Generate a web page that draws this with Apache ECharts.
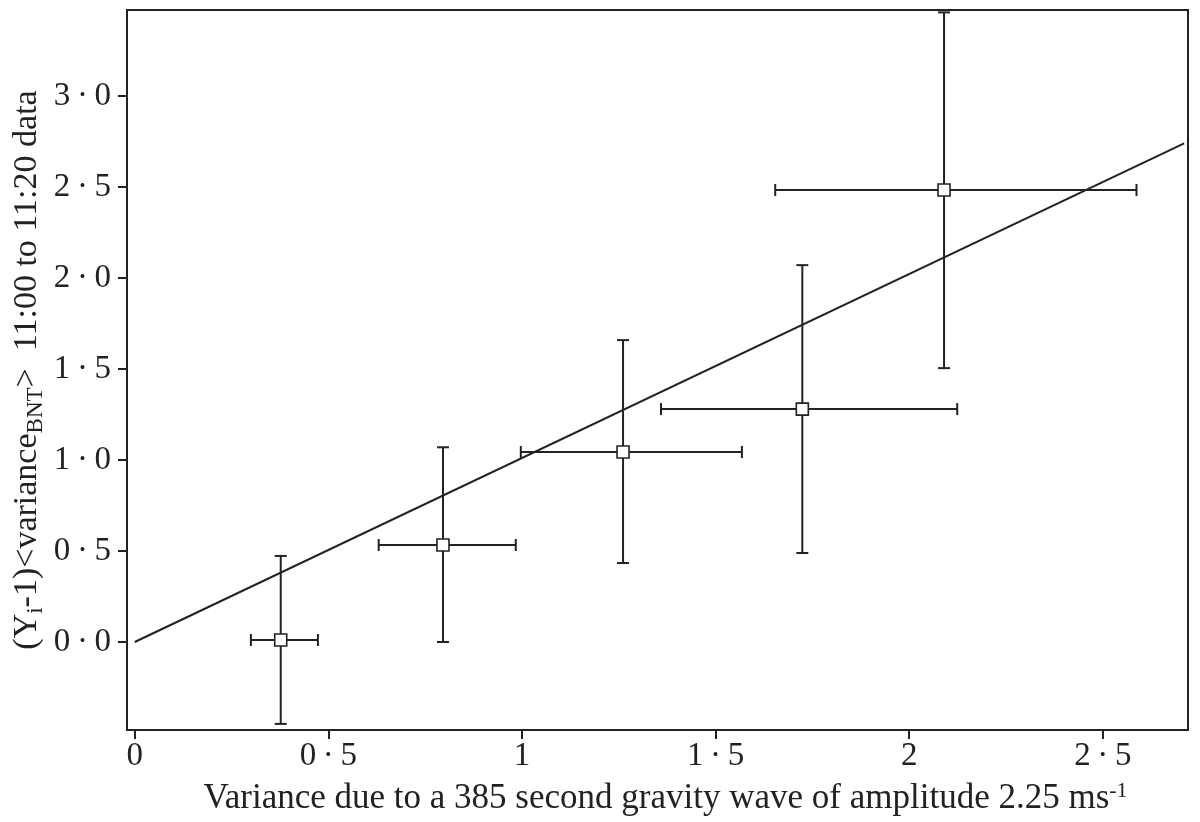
<!doctype html>
<html>
<head>
	<meta charset="utf-8">
	<title></title>
	<script src="https://cdn.jsdelivr.net/npm/echarts@6/dist/echarts.min.js"></script>
	<style>html,body{margin:0;padding:0;background:#fff;}</style>
</head>
<body>
	<div id="chart" style="width: 1200px; height: 822px;"></div>
	<script>
		// measured points with their error ranges
		var xs  = [0.377, 0.796, 1.261, 1.724, 2.090];
		var ys  = [0.011, 0.533, 1.044, 1.280, 2.484];
		var xLo = [0.300, 0.630, 0.997, 1.359, 1.654];
		var xHi = [0.473, 0.984, 1.568, 2.124, 2.587];
		var yLo = [-0.45, 0.000, 0.434, 0.489, 1.505];
		var yHi = [0.473, 1.070, 1.659, 2.071, 3.460];
		// fitted line end points
		var fitX = [0, 2.71];
		var fitY = [0, 2.74];
		var xTicks = [0, 0.5, 1, 1.5, 2, 2.5];
		var yTicks = [0, 0.5, 1, 1.5, 2, 2.5, 3];

		var font = "'Liberation Serif', 'DejaVu Serif', serif";
		var ink = '#222';
		var dot = '\u2009\u00b7\u2009';

		var pts = xs.map(function (x, i) {
			return [x, ys[i], xLo[i], xHi[i], yLo[i], yHi[i]];
		});
		var fit = fitX.map(function (x, i) { return [x, fitY[i]]; });

		var chart = document.getElementById('chart');
		var myChart = echarts.init(chart);
		var option = {
			animation: false,
			backgroundColor: '#fff',
			grid: {
				left: 127, right: 12, top: 10, bottom: 92,
				outerBoundsMode: 'none',
				show: true, borderColor: ink, borderWidth: 2
			},
			xAxis: {
				type: 'value',
				min: -0.02, max: 2.72,
				splitLine: {show: false},
				axisLine: {onZero: false, lineStyle: {color: ink, width: 2}},
				axisTick: {customValues: xTicks, length: 9, lineStyle: {color: ink, width: 2}},
				axisLabel: {
					customValues: xTicks, margin: 10,
					color: ink, fontFamily: font, fontSize: 33,
					formatter: function (v) { return String(v).replace('.', dot); }
				},
				name: 'Variance due to a 385 second gravity wave of amplitude 2.25 ms{sup|-1}',
				nameLocation: 'middle', nameGap: 50,
				nameTextStyle: {
					color: ink, fontFamily: font, fontSize: 35,
					padding: [0, 0, 0, 16],
					rich: {sup: {fontSize: 22, fontFamily: font, color: ink, padding: [0, 0, 16, 0]}}
				}
			},
			yAxis: {
				type: 'value',
				min: -0.4835, max: 3.473,
				splitLine: {show: false},
				axisLine: {onZero: false, lineStyle: {color: ink, width: 2}},
				axisTick: {customValues: yTicks, length: 9, lineStyle: {color: ink, width: 2}},
				axisLabel: {
					customValues: yTicks, margin: 16,
					color: ink, fontFamily: font, fontSize: 33,
					formatter: function (v) { return v.toFixed(1).replace('.', dot); }
				},
				name: '(Y{sub|i}-1)<variance{sub|BNT}>  11:00 to 11:20 data',
				nameLocation: 'middle', nameGap: 80,
				nameMoveOverlap: false,
				nameTextStyle: {
					color: ink, fontFamily: font, fontSize: 34,
					rich: {sub: {fontSize: 23, fontFamily: font, color: ink, padding: [16, 0, 0, 0]}}
				}
			},
			series: [
				{
					type: 'line',
					data: fit,
					showSymbol: false,
					lineStyle: {color: ink, width: 2},
					z: 2
				},
				{
					type: 'custom',
					data: pts,
					z: 3,
					renderItem: function (params, api) {
						var c = api.coord([api.value(0), api.value(1)]);
						var l = api.coord([api.value(2), api.value(1)]);
						var r = api.coord([api.value(3), api.value(1)]);
						var b = api.coord([api.value(0), api.value(4)]);
						var t = api.coord([api.value(0), api.value(5)]);
						var cap = 6, sq = 6;
						var st = {stroke: ink, lineWidth: 2, fill: null};
						function seg(x1, y1, x2, y2) {
							return {type: 'line', shape: {x1: x1, y1: y1, x2: x2, y2: y2}, style: st};
						}
						return {
							type: 'group',
							children: [
								seg(l[0], l[1], r[0], r[1]),
								seg(l[0], l[1] - cap, l[0], l[1] + cap),
								seg(r[0], r[1] - cap, r[0], r[1] + cap),
								seg(b[0], b[1], t[0], t[1]),
								seg(b[0] - cap, b[1], b[0] + cap, b[1]),
								seg(t[0] - cap, t[1], t[0] + cap, t[1]),
								{
									type: 'rect',
									shape: {x: c[0] - sq, y: c[1] - sq, width: 2 * sq, height: 2 * sq},
									style: {stroke: ink, lineWidth: 1.6, fill: '#fff'}
								}
							]
						};
					}
				}
			]
		};
		myChart.setOption(option);
	</script>
</body>
</html>
